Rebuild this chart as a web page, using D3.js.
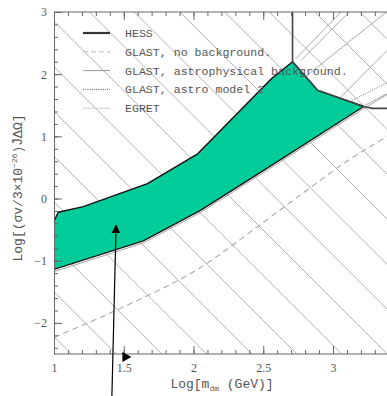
<!DOCTYPE html>
<html>
<head>
<meta charset="utf-8">
<script src="https://cdn.jsdelivr.net/npm/d3@7"></script>
<style>
  body { margin: 0; background: #fff; }
  svg { display: block; }
  .tick text { font-family: "Liberation Serif", serif; font-size: 12px; fill: #555; }
</style>
</head>
<body>
<div id="chart"></div>
<script>
// allowed region (green band)
var upperMass = [1.00, 1.03, 1.21, 1.67, 2.03, 2.56, 2.71, 2.89, 3.22];
var upperSigma = [-0.37, -0.22, -0.13, 0.24, 0.72, 1.93, 2.20, 1.74, 1.48];
var lowerMass = [1.00, 1.64, 2.05, 2.50, 3.22];
var lowerSigma = [-1.14, -0.68, -0.19, 0.45, 1.48];

// GLAST, no background (dashed)
var noBgMass = [1.00, 1.52, 2.05, 2.46, 2.81, 3.10, 3.39];
var noBgSigma = [-2.23, -1.72, -1.11, -0.45, 0.13, 0.60, 1.00];

// HESS
var hessMass = [2.71, 2.71, 2.89, 3.22, 3.28, 3.45];
var hessSigma = [3.05, 2.20, 1.74, 1.48, 1.45, 1.45];

// curves leaving the band on the upper right
var egretA = [[2.735, 2.25], [3.10, 3.10]];
var egretB = [[2.77, 2.22], [3.16, 3.10]];
var astroC = [[2.785, 1.93], [3.45, 3.12]];
var astroD = [[3.05, 1.62], [3.45, 2.52]];
var modelE = [[3.12, 1.56], [3.45, 1.93]];
var astroF = [[3.23, 1.50], [3.45, 1.76]];

// diagonal hatching: value at log m = 1 and slope
var hatchLevels = [-2.22, -1.50, -0.77, -0.05, 0.68, 1.40, 2.12, 2.85, 3.57, 4.29, 5.02, 5.74, 6.46, 7.19, 7.91, 8.63];
var hatchSlope = -2.24;

var legendNames = ["HESS", "GLAST, no background.", "GLAST, astrophysical background.", "GLAST, astro model 2", "EGRET"];

var xMajor = [1, 1.5, 2, 2.5, 3];
var yMajor = [-2, -1, 0, 1, 2, 3];

var width = 387, height = 396;
var margin = {left: 54, top: 12, bottom: 354};

var svg = d3.select("#chart").append("svg")
    .attr("width", width)
    .attr("height", height);

var x = d3.scaleLinear().domain([1, 3.5]).range([54, 54 + 139.5 * 2.5]);
var y = d3.scaleLinear().domain([-2.5, 3]).range([354, 12]);

svg.append("clipPath").attr("id", "plotclip")
  .append("rect")
    .attr("x", x(1)).attr("y", y(3))
    .attr("width", width - x(1)).attr("height", y(-2.5) - y(3));

var plot = svg.append("g").attr("clip-path", "url(#plotclip)");

var line = d3.line().x(function(d){ return x(d[0]) }).y(function(d){ return y(d[1]) });
var zip = function(a, b){ return a.map(function(v, i){ return [v, b[i]] }) };

// hatching
plot.selectAll(".hatch")
    .data(hatchLevels)
    .enter()
    .append("path")
      .attr("d", function(l){ return line([[1, l], [3.5, l + hatchSlope * 2.5]]) })
      .attr("fill", "none")
      .attr("stroke", "#a8a8a8")
      .attr("stroke-width", 0.9);

// GLAST no background
plot.append("path")
    .attr("d", d3.line().curve(d3.curveMonotoneX).x(function(d){ return x(d[0]) }).y(function(d){ return y(d[1]) })(zip(noBgMass, noBgSigma)))
    .attr("fill", "none")
    .attr("stroke", "#aaa")
    .attr("stroke-width", 1.1)
    .attr("stroke-dasharray", "6,4");

// legend
var legend = svg.append("g");
var rowY = function(i){ return 33 + i * 18.8 };
var styles = [
  {stroke: "#333", w: 2.2, dash: null},
  {stroke: "#bbb", w: 1, dash: "5,3"},
  {stroke: "#999", w: 1, dash: null},
  {stroke: "#555", w: 1, dash: "1,1.2"},
  {stroke: "#ccc", w: 1, dash: null}
];
legendNames.forEach(function(name, i){
  legend.append("line")
      .attr("x1", 83).attr("x2", 110)
      .attr("y1", rowY(i)).attr("y2", rowY(i))
      .attr("stroke", styles[i].stroke)
      .attr("stroke-width", styles[i].w)
      .attr("stroke-dasharray", styles[i].dash);
  legend.append("text")
      .attr("x", 125).attr("y", rowY(i) + 4)
      .attr("font-family", "Liberation Mono, monospace")
      .attr("font-size", "11.6px")
      .attr("fill", "#555")
      .text(name);
});

// allowed band
var band = zip(upperMass, upperSigma).concat(zip(lowerMass, lowerSigma).reverse().slice(1));
plot.append("path")
    .attr("d", line(band) + "Z")
    .attr("fill", "#00cc99")
    .attr("stroke", "#111")
    .attr("stroke-width", 1.4)
    .attr("stroke-linejoin", "round");

// astrophysical background just under the band
plot.append("path")
    .attr("d", line(zip(lowerMass, lowerSigma.map(function(v){ return v - 0.035 })).concat(astroF.slice(1))))
    .attr("fill", "none")
    .attr("stroke", "#999")
    .attr("stroke-width", 0.9);

[egretA, egretB, astroC, astroD, astroF].forEach(function(c){
  plot.append("path")
      .attr("d", line(c))
      .attr("fill", "none")
      .attr("stroke", "#aaa")
      .attr("stroke-width", 1);
});
plot.append("path")
    .attr("d", line(modelE))
    .attr("fill", "none")
    .attr("stroke", "#777")
    .attr("stroke-width", 1)
    .attr("stroke-dasharray", "1,1.5");

// HESS
plot.append("path")
    .attr("d", line(zip(hessMass, hessSigma)))
    .attr("fill", "none")
    .attr("stroke", "#444")
    .attr("stroke-width", 1.6);

// axes, ticks pointing inward
var xMinor = d3.range(1, 3.45, 0.1);
var yMinor = d3.range(-2.4, 3, 0.2);

svg.append("g")
    .attr("transform", "translate(0," + y(-2.5) + ")")
    .call(d3.axisBottom(x).tickValues(xMinor).tickSize(-4).tickSizeOuter(0).tickFormat(""))
    .call(function(g){ g.select(".domain").attr("stroke", "#666").attr("d", "M" + x(1) + ",0H" + width) });
svg.append("g")
    .attr("transform", "translate(0," + y(-2.5) + ")")
    .call(d3.axisBottom(x).tickValues(xMajor).tickSize(-8).tickPadding(9).tickFormat(d3.format("")))
    .call(function(g){ g.select(".domain").remove() });

svg.append("g")
    .attr("transform", "translate(0," + y(3) + ")")
    .call(d3.axisTop(x).tickValues(xMinor).tickSize(-4).tickSizeOuter(0).tickFormat(""))
    .call(function(g){ g.select(".domain").attr("stroke", "#666").attr("d", "M" + x(1) + ",0H" + width) });
svg.append("g")
    .attr("transform", "translate(0," + y(3) + ")")
    .call(d3.axisTop(x).tickValues(xMajor).tickSize(-8).tickFormat(""))
    .call(function(g){ g.select(".domain").remove() });

svg.append("g")
    .attr("transform", "translate(" + x(1) + ",0)")
    .call(d3.axisLeft(y).tickValues(yMinor).tickSize(-4).tickSizeOuter(0).tickFormat(""))
    .call(function(g){ g.select(".domain").attr("stroke", "#666") });
svg.append("g")
    .attr("transform", "translate(" + x(1) + ",0)")
    .call(d3.axisLeft(y).tickValues(yMajor).tickSize(-8).tickPadding(7).tickFormat(function(d){ return d < 0 ? "\u2212" + (-d) : d }))
    .call(function(g){ g.select(".domain").remove() });

svg.selectAll(".tick line").attr("stroke", "#666");

// axis titles
var xt = svg.append("text")
    .attr("x", 222).attr("y", 388)
    .attr("text-anchor", "middle")
    .attr("font-family", "Liberation Mono, monospace")
    .attr("font-size", "13px")
    .attr("fill", "#555");
xt.append("tspan").text("Log[m");
xt.append("tspan").attr("font-size", "8px").attr("dy", 3).text("dm");
xt.append("tspan").attr("dy", -3).text(" (GeV)]");

var yt = svg.append("text")
    .attr("transform", "translate(22,188) rotate(-90)")
    .attr("text-anchor", "middle")
    .attr("font-family", "Liberation Mono, monospace")
    .attr("font-size", "13px")
    .attr("fill", "#555");
yt.append("tspan").text("Log[(\u03c3v/3\u00d710");
yt.append("tspan").attr("font-size", "8px").attr("dy", -5).text("\u221226");
yt.append("tspan").attr("dy", 5).text(")J\u0304\u0394\u03a9]");

// arrows
var defs = svg.append("defs");
defs.append("marker")
    .attr("id", "head")
    .attr("viewBox", "0 0 10 10")
    .attr("refX", 9).attr("refY", 5)
    .attr("markerWidth", 9).attr("markerHeight", 9)
    .attr("markerUnits", "userSpaceOnUse")
    .attr("orient", "auto")
  .append("path")
    .attr("d", "M0,0L10,5L0,10Z")
    .attr("fill", "#000");

svg.append("line")
    .attr("x1", x(1.415)).attr("y1", height)
    .attr("x2", x(1.445)).attr("y2", y(-0.43))
    .attr("stroke", "#000")
    .attr("stroke-width", 1.2)
    .attr("marker-end", "url(#head)");

svg.append("path")
    .attr("d", "M" + x(1.49) + "," + (y(-2.55) - 5) + "L" + x(1.555) + "," + y(-2.55) + "L" + x(1.49) + "," + (y(-2.55) + 5) + "Z")
    .attr("fill", "#000");
</script>
</body>
</html>
